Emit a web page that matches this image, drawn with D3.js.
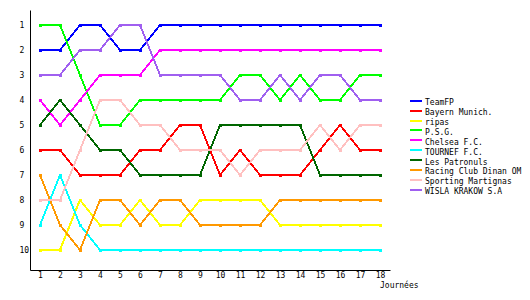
<!DOCTYPE html>
<html>
<head>
<meta charset="utf-8">
<script src="https://cdn.jsdelivr.net/npm/d3@7"></script>
<style>
  html, body { margin: 0; padding: 0; background: #fff; }
  svg { display: block; }
  text { font-family: "DejaVu Sans Mono", monospace; font-size: 8px; fill: #000; }
</style>
</head>
<body>
<svg id="chart" width="530" height="300"></svg>
<script>
const days = d3.range(1, 19);
const teams = ["TeamFP", "Bayern Munich.", "ripas", "P.S.G.", "Chelsea F.C.", "TOURNEF F.C.",
  "Les Patronuls", "Racing Club Dinan OM", "Sporting Martignas", "WISLA KRAKOW S.A"];
const colors = ["#0000ff", "#ff0000", "#ffff00", "#00ff00", "#ff00ff", "#00ffff",
  "#006600", "#ff9900", "#ffc0c0", "#a05ff0"];

const teamFP     = [2,2,1,1,2,2,1,1,1,1,1,1,1,1,1,1,1,1];
const bayern     = [6,6,7,7,7,6,6,5,5,7,6,7,7,7,6,5,6,6];
const ripas      = [10,10,8,9,9,8,9,9,8,8,8,8,9,9,9,9,9,9];
const psg        = [1,1,3,5,5,4,4,4,4,4,3,3,4,3,4,4,3,3];
const chelsea    = [4,5,4,3,3,3,2,2,2,2,2,2,2,2,2,2,2,2];
const tournef    = [9,7,9,10,10,10,10,10,10,10,10,10,10,10,10,10,10,10];
const patronuls  = [5,4,5,6,6,7,7,7,7,5,5,5,5,5,7,7,7,7];
const racing     = [7,9,10,8,8,9,8,8,9,9,9,9,8,8,8,8,8,8];
const sporting   = [8,8,6,4,4,5,5,6,6,6,7,6,6,6,5,6,5,5];
const wisla      = [3,3,2,2,1,1,3,3,3,3,4,4,3,4,3,3,4,4];
const series = [teamFP, bayern, ripas, psg, chelsea, tournef, patronuls, racing, sporting, wisla];

const yTicks = d3.range(1, 11);
const xLabel = "Journées";

const svg = d3.select("#chart");
const x = d3.scaleLinear().domain([0.5, 18.5]).range([30, 390]);
const y = d3.scaleLinear().domain([0.4, 10.8]).range([10, 270]);

// axes
const gy = svg.append("g").attr("transform", "translate(30,0)")
  .call(d3.axisLeft(y).tickValues(yTicks).tickSize(0).tickSizeOuter(0).tickFormat(d3.format("d")));
gy.selectAll("text").attr("text-anchor", "start").attr("x", -10.5);
const gx = svg.append("g").attr("transform", "translate(0,270)")
  .call(d3.axisBottom(x).tickValues(days).tickSize(0).tickSizeOuter(0).tickPadding(2).tickFormat(d3.format("d")));
svg.selectAll(".domain").attr("stroke", "#000");
svg.selectAll(".tick text").style("font-family", "DejaVu Sans Mono, monospace").style("font-size", "8px");
gy.attr("font-family", null).attr("font-size", null);
gx.attr("font-family", null).attr("font-size", null);

svg.append("text").attr("x", 380).attr("y", 287.5).text(xLabel);

// lines
const line = d3.line().x((d, i) => x(days[i])).y(d => y(d));
series.forEach((s, k) => {
  const g = svg.append("g");
  g.append("path").attr("d", line(s)).attr("fill", "none")
    .attr("stroke", colors[k]).attr("stroke-width", 2)
    .attr("shape-rendering", "crispEdges");
  g.selectAll("rect").data(s).join("rect")
    .attr("x", (d, i) => Math.round(x(days[i])) - 1.5)
    .attr("y", d => Math.round(y(d)) - 1.5)
    .attr("width", 3).attr("height", 3)
    .attr("fill", colors[k]).attr("shape-rendering", "crispEdges");
});

// legend
const lg = svg.append("g");
teams.forEach((t, k) => {
  const ly = 100.7 + k * 9.92;
  lg.append("line").attr("x1", 409.5).attr("x2", 421.5).attr("y1", ly).attr("y2", ly)
    .attr("stroke", colors[k]).attr("stroke-width", 2).attr("shape-rendering", "crispEdges");
  lg.append("text").attr("x", 425).attr("y", ly + 4.3).text(t);
});
</script>
</body>
</html>
